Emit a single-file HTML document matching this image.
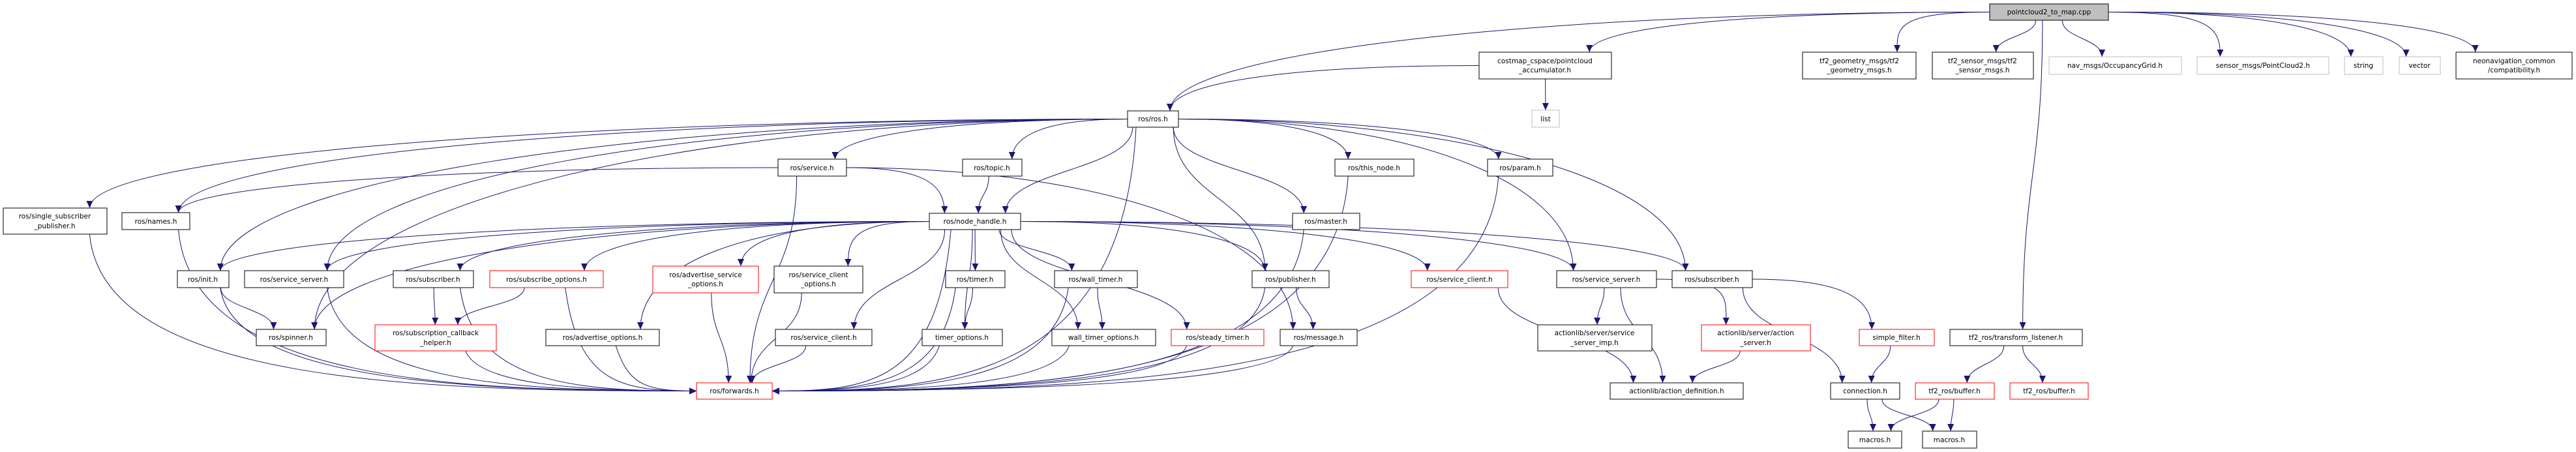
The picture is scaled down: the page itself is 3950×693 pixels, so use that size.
<!DOCTYPE html>
<html><head><meta charset="utf-8"><style>
html,body{margin:0;padding:0;background:#fff;}
svg{display:block;}
text{font-family:"DejaVu Sans","Liberation Sans",sans-serif;font-size:10.5px;fill:#000;}
</style></head><body>
<svg id="g" xmlns="http://www.w3.org/2000/svg" width="3950" height="693" viewBox="0 0 3950 693">
<defs><marker id="a" markerUnits="userSpaceOnUse" markerWidth="12" markerHeight="10" refX="11" refY="5" orient="auto"><path d="M0,0 L11,5 L0,10 z" fill="#191970"/></marker></defs>
<g id="edges" fill="none" stroke="#191970" stroke-width="1"></g>
<g id="nodes">
<rect x="3051" y="6" width="182" height="25" fill="#bfbfbf" stroke="#000"/><text x="3142" y="22" text-anchor="middle">pointcloud2_to_map.cpp</text>
<rect x="2268" y="80" width="203" height="41" fill="#fff" stroke="#000"/><text x="2369" y="97" text-anchor="middle">costmap_cspace/pointcloud</text><text x="2369" y="111" text-anchor="middle">_accumulator.h</text>
<rect x="2764" y="80" width="174" height="41" fill="#fff" stroke="#000"/><text x="2851" y="97" text-anchor="middle">tf2_geometry_msgs/tf2</text><text x="2851" y="111" text-anchor="middle">_geometry_msgs.h</text>
<rect x="2963" y="80" width="155" height="41" fill="#fff" stroke="#000"/><text x="3040" y="97" text-anchor="middle">tf2_sensor_msgs/tf2</text><text x="3040" y="111" text-anchor="middle">_sensor_msgs.h</text>
<rect x="3142" y="87" width="203" height="27" fill="#fff" stroke="#bfbfbf"/><text x="3243" y="104" text-anchor="middle">nav_msgs/OccupancyGrid.h</text>
<rect x="3369" y="87" width="202" height="27" fill="#fff" stroke="#bfbfbf"/><text x="3470" y="104" text-anchor="middle">sensor_msgs/PointCloud2.h</text>
<rect x="3595" y="87" width="59" height="27" fill="#fff" stroke="#bfbfbf"/><text x="3624" y="104" text-anchor="middle">string</text>
<rect x="3679" y="87" width="63" height="27" fill="#fff" stroke="#bfbfbf"/><text x="3710" y="104" text-anchor="middle">vector</text>
<rect x="3766" y="80" width="178" height="41" fill="#fff" stroke="#000"/><text x="3855" y="97" text-anchor="middle">neonavigation_common</text><text x="3855" y="111" text-anchor="middle">/compatibility.h</text>
<rect x="2349" y="169" width="42" height="26" fill="#fff" stroke="#bfbfbf"/><text x="2370" y="186" text-anchor="middle">list</text>
<rect x="1729" y="170" width="78" height="25" fill="#fff" stroke="#000"/><text x="1768" y="186" text-anchor="middle">ros/ros.h</text>
<rect x="1193" y="244" width="105" height="26" fill="#fff" stroke="#000"/><text x="1245" y="261" text-anchor="middle">ros/service.h</text>
<rect x="1476" y="244" width="91" height="26" fill="#fff" stroke="#000"/><text x="1521" y="261" text-anchor="middle">ros/topic.h</text>
<rect x="2047" y="244" width="121" height="26" fill="#fff" stroke="#000"/><text x="2107" y="261" text-anchor="middle">ros/this_node.h</text>
<rect x="2281" y="244" width="100" height="26" fill="#fff" stroke="#000"/><text x="2331" y="261" text-anchor="middle">ros/param.h</text>
<rect x="5" y="319" width="159" height="40" fill="#fff" stroke="#000"/><text x="84" y="335" text-anchor="middle">ros/single_subscriber</text><text x="84" y="350" text-anchor="middle">_publisher.h</text>
<rect x="187" y="326" width="104" height="26" fill="#fff" stroke="#000"/><text x="239" y="343" text-anchor="middle">ros/names.h</text>
<rect x="1425" y="327" width="140" height="25" fill="#fff" stroke="#000"/><text x="1495" y="343" text-anchor="middle">ros/node_handle.h</text>
<rect x="1982" y="327" width="103" height="25" fill="#fff" stroke="#000"/><text x="2033" y="343" text-anchor="middle">ros/master.h</text>
<rect x="272" y="415" width="79" height="26" fill="#fff" stroke="#000"/><text x="311" y="432" text-anchor="middle">ros/init.h</text>
<rect x="375" y="415" width="152" height="26" fill="#fff" stroke="#000"/><text x="451" y="432" text-anchor="middle">ros/service_server.h</text>
<rect x="603" y="415" width="123" height="26" fill="#fff" stroke="#000"/><text x="664" y="432" text-anchor="middle">ros/subscriber.h</text>
<rect x="751" y="415" width="174" height="26" fill="#fff" stroke="#ff0000"/><text x="838" y="432" text-anchor="middle">ros/subscribe_options.h</text>
<rect x="1001" y="408" width="162" height="41" fill="#fff" stroke="#ff0000"/><text x="1082" y="425" text-anchor="middle">ros/advertise_service</text><text x="1082" y="439" text-anchor="middle">_options.h</text>
<rect x="1187" y="408" width="136" height="41" fill="#fff" stroke="#000"/><text x="1255" y="425" text-anchor="middle">ros/service_client</text><text x="1255" y="439" text-anchor="middle">_options.h</text>
<rect x="1450" y="415" width="91" height="26" fill="#fff" stroke="#000"/><text x="1495" y="432" text-anchor="middle">ros/timer.h</text>
<rect x="1617" y="415" width="127" height="26" fill="#fff" stroke="#000"/><text x="1680" y="432" text-anchor="middle">ros/wall_timer.h</text>
<rect x="1920" y="415" width="118" height="26" fill="#fff" stroke="#000"/><text x="1979" y="432" text-anchor="middle">ros/publisher.h</text>
<rect x="2164" y="415" width="148" height="26" fill="#fff" stroke="#ff0000"/><text x="2238" y="432" text-anchor="middle">ros/service_client.h</text>
<rect x="2387" y="415" width="153" height="26" fill="#fff" stroke="#000"/><text x="2463" y="432" text-anchor="middle">ros/service_server.h</text>
<rect x="2564" y="415" width="123" height="26" fill="#fff" stroke="#000"/><text x="2625" y="432" text-anchor="middle">ros/subscriber.h</text>
<rect x="393" y="505" width="107" height="25" fill="#fff" stroke="#000"/><text x="446" y="521" text-anchor="middle">ros/spinner.h</text>
<rect x="575" y="498" width="186" height="40" fill="#fff" stroke="#ff0000"/><text x="668" y="514" text-anchor="middle">ros/subscription_callback</text><text x="668" y="529" text-anchor="middle">_helper.h</text>
<rect x="837" y="505" width="174" height="25" fill="#fff" stroke="#000"/><text x="924" y="521" text-anchor="middle">ros/advertise_options.h</text>
<rect x="1189" y="505" width="148" height="25" fill="#fff" stroke="#000"/><text x="1263" y="521" text-anchor="middle">ros/service_client.h</text>
<rect x="1414" y="505" width="123" height="25" fill="#fff" stroke="#000"/><text x="1475" y="521" text-anchor="middle">timer_options.h</text>
<rect x="1613" y="505" width="159" height="25" fill="#fff" stroke="#000"/><text x="1692" y="521" text-anchor="middle">wall_timer_options.h</text>
<rect x="1796" y="505" width="142" height="25" fill="#fff" stroke="#ff0000"/><text x="1867" y="521" text-anchor="middle">ros/steady_timer.h</text>
<rect x="1963" y="505" width="118" height="25" fill="#fff" stroke="#000"/><text x="2022" y="521" text-anchor="middle">ros/message.h</text>
<rect x="2358" y="498" width="175" height="40" fill="#fff" stroke="#000"/><text x="2445" y="514" text-anchor="middle">actionlib/server/service</text><text x="2445" y="529" text-anchor="middle">_server_imp.h</text>
<rect x="2609" y="498" width="167" height="40" fill="#fff" stroke="#ff0000"/><text x="2692" y="514" text-anchor="middle">actionlib/server/action</text><text x="2692" y="529" text-anchor="middle">_server.h</text>
<rect x="2851" y="505" width="115" height="25" fill="#fff" stroke="#ff0000"/><text x="2908" y="521" text-anchor="middle">simple_filter.h</text>
<rect x="2990" y="505" width="203" height="25" fill="#fff" stroke="#000"/><text x="3091" y="521" text-anchor="middle">tf2_ros/transform_listener.h</text>
<rect x="1068" y="587" width="116" height="25" fill="#fff" stroke="#ff0000"/><text x="1126" y="603" text-anchor="middle">ros/forwards.h</text>
<rect x="2469" y="587" width="204" height="25" fill="#fff" stroke="#000"/><text x="2571" y="603" text-anchor="middle">actionlib/action_definition.h</text>
<rect x="2807" y="587" width="106" height="25" fill="#fff" stroke="#000"/><text x="2860" y="603" text-anchor="middle">connection.h</text>
<rect x="2937" y="587" width="121" height="25" fill="#fff" stroke="#ff0000"/><text x="2997" y="603" text-anchor="middle">tf2_ros/buffer.h</text>
<rect x="3082" y="587" width="120" height="25" fill="#fff" stroke="#ff0000"/><text x="3142" y="603" text-anchor="middle">tf2_ros/buffer.h</text>
<rect x="2834" y="661" width="82" height="26" fill="#fff" stroke="#000"/><text x="2875" y="678" text-anchor="middle">macros.h</text>
<rect x="2948" y="661" width="83" height="26" fill="#fff" stroke="#000"/><text x="2989" y="678" text-anchor="middle">macros.h</text>
</g>
</svg>
<script>
var N={pc:[3051,3233,6,31],acc:[2268,2471,80,121],tf2g:[2764,2938,80,121],tf2s:[2963,3118,80,121],nav:[3142,3345,87,114],pc2:[3369,3571,87,114],str:[3595,3654,87,114],vec:[3679,3742,87,114],neo:[3766,3944,80,121],list:[2349,2391,169,195],ros:[1729,1807,170,195],service:[1193,1298,244,270],topic:[1476,1567,244,270],thisnode:[2047,2168,244,270],param:[2281,2381,244,270],ssp:[5,164,319,359],names:[187,291,326,352],nh:[1425,1565,327,352],master:[1982,2085,327,352],init:[272,351,415,441],ss1:[375,527,415,441],sub1:[603,726,415,441],subopt:[751,925,415,441],aso:[1001,1163,408,449],sco:[1187,1323,408,449],timer:[1450,1541,415,441],wtimer:[1617,1744,415,441],pub:[1920,2038,415,441],sc2:[2164,2312,415,441],ss2:[2387,2540,415,441],sub2:[2564,2687,415,441],spinner:[393,500,505,530],sch:[575,761,498,538],advopt:[837,1011,505,530],sc1:[1189,1337,505,530],topt:[1414,1537,505,530],wtopt:[1613,1772,505,530],steady:[1796,1938,505,530],msg:[1963,2081,505,530],ssimp:[2358,2533,498,538],asrv:[2609,2776,498,538],sf:[2851,2966,505,530],tfl:[2990,3193,505,530],fwd:[1068,1184,587,612],adef:[2469,2673,587,612],conn:[2807,2913,587,612],buf1:[2937,3058,587,612],buf2:[3082,3202,587,612],mac1:[2834,2916,661,687],mac2:[2948,3031,661,687]};
var E="pc>ros pc>acc pc>tf2g pc>tf2s pc>nav pc>pc2 pc>str pc>vec pc>neo pc>tfl acc>list acc>ros ros>ssp ros>names ros>service ros>topic ros>nh ros>thisnode ros>param ros>master ros>pub ros>ss1 ros>ss2 ros>sub2 ros>init ros>spinner ros>fwd service>nh service>fwd service>msg service>names topic>nh nh>fwd nh>init nh>ss1 nh>sub1 nh>subopt nh>advopt nh>aso nh>sco nh>timer nh>topt nh>sc1 nh>wtimer nh>wtopt nh>steady nh>pub nh>sc2 nh>ss2 nh>sub2 nh>spinner ssp>fwd names>fwd init>fwd init>spinner ss1>fwd sub1>fwd sub1>sch subopt>sch subopt>fwd sch>fwd advopt>fwd aso>fwd sco>fwd timer>topt timer>fwd sc1>fwd topt>fwd wtimer>wtopt wtimer>fwd wtopt>fwd steady>fwd pub>msg pub>fwd msg>fwd master>fwd thisnode>fwd param>fwd sc2>adef ss2>ssimp ss2>asrv ss2>adef asrv>adef sub2>sf sub2>conn sf>conn conn>mac1 conn>mac2 buf1>mac1 buf1>mac2 tfl>buf1 tfl>buf2".split(" ");
var g=document.getElementById("edges"),s="";
E.forEach(function(e){var p=e.split(">"),a=N[p[0]],b=N[p[1]];
var acx=(a[0]+a[1])/2,bcx=(b[0]+b[1])/2,dy=b[2]-a[3],dx=bcx-acx,sx,sy,tx,ty,d;
var far=Math.abs(dx)>3*Math.max(dy,20);
if(p[1]=="fwd"&&Math.abs(dx)>160){
 sx=acx+Math.max(-(a[1]-a[0])/3,Math.min((a[1]-a[0])/3,dx*0.1));sy=a[3];
 if(far&&p[0]=="ros"){sx=a[0];sy=(a[2]+a[3])/2;}
 tx=dx>0?b[0]:b[1];ty=(b[2]+b[3])/2;
 var k=dx>0?1:-1;
 d="M"+sx+","+sy+" C"+(sx+k*20)+","+(ty-10)+" "+(tx-k*Math.abs(dx)*0.4)+","+ty+" "+tx+","+ty;
}else{
if(far){sx=dx<0?a[0]:a[1];sy=(a[2]+a[3])/2;}else{sx=acx+Math.max(-(a[1]-a[0])/2.5,Math.min((a[1]-a[0])/2.5,dx*0.2));sy=a[3];}
tx=bcx-Math.max(-(b[1]-b[0])/3,Math.min((b[1]-b[0])/3,dx*0.2));ty=b[2];
if(far)d="M"+sx+","+sy+" C"+(sx+dx*0.5)+","+sy+" "+tx+","+(ty-(ty-sy)*0.6)+" "+tx+","+ty;
else d="M"+sx+","+sy+" C"+sx+","+(sy+(ty-sy)/2)+" "+tx+","+(ty-(ty-sy)/2)+" "+tx+","+ty;}
s+='<path d="'+d+'" marker-end="url(#a)"/>';});
g.innerHTML=s;
</script>
</body></html>
